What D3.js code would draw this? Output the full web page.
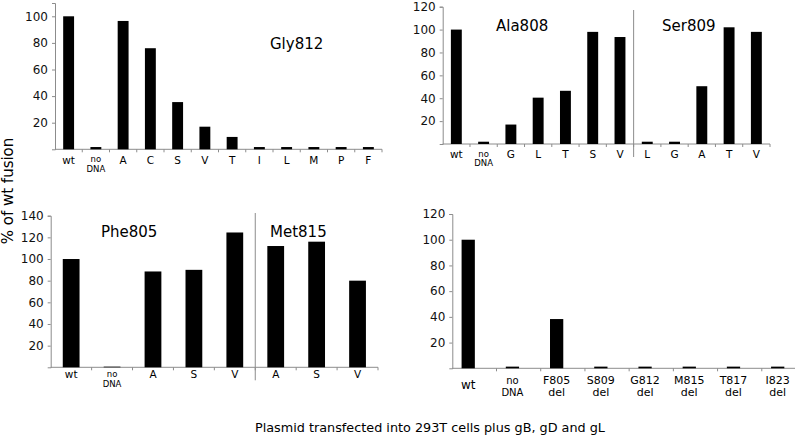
<!DOCTYPE html>
<html>
<head>
<meta charset="utf-8">
<script src="https://cdn.jsdelivr.net/npm/d3@7"></script>
<style>
  body { margin: 0; background: #fff; }
  svg { font-family: "DejaVu Sans", sans-serif; }
</style>
</head>
<body>
<div id="chart"></div>
<script>
// data (% of wt fusion)
var gly812Cats = ["wt", "no DNA", "A", "C", "S", "V", "T", "I", "L", "M", "P", "F"];
var gly812Vals = [100, 1.7, 96.5, 76, 35.5, 17, 9.3, 1.7, 1.7, 1.7, 1.7, 1.7];

var ala808Cats = ["wt", "no DNA", "G", "L", "T", "S", "V"];
var ala808Vals = [100, 2, 17, 40.5, 46.5, 98, 93.5];
var ser809Cats = ["L", "G", "A", "T", "V"];
var ser809Vals = [2, 2, 50.5, 102, 98];

var phe805Cats = ["wt", "no DNA", "A", "S", "V"];
var phe805Vals = [100, 0.6, 88.5, 90, 124.5];
var met815Cats = ["A", "S", "V"];
var met815Vals = [112, 116, 80];

var delCats = ["wt", "no DNA", "F805 del", "S809 del", "G812 del", "M815 del", "T817 del", "I823 del"];
var delVals = [100, 1.3, 38.3, 1.3, 1.3, 1.3, 1.3, 1.3];

var ticksA = [20, 40, 60, 80, 100];
var ticksB = [20, 40, 60, 80, 100, 120];
var ticksC = [20, 40, 60, 80, 100, 120, 140];

var axisColor = "#8c8c8c";

var svg = d3.select("#chart").append("svg")
    .attr("width", 795)
    .attr("height", 440);

// one bar panel; groups = [{name, cats, vals, titleX}]
function drawPanel(p) {
    var cats = [], vals = [];
    p.groups.forEach(function(g){
        g.cats.forEach(function(c, i){ cats.push(g.name + "|" + c); vals.push(g.vals[i]); });
    });

    var x = d3.scaleBand().domain(cats).range([p.x0, p.x1]).padding(0);
    var y = d3.scaleLinear().domain([0, p.yMax]).range([p.base, p.top]);

    var g = svg.append("g");

    // y axis
    var yAxis = d3.axisLeft(y).tickValues(p.ticks).tickSize(3).tickPadding(4);
    var ya = g.append("g").attr("transform", "translate(" + p.x0 + ",0)").call(yAxis);
    ya.select(".domain").attr("stroke", axisColor);
    ya.selectAll(".tick line").attr("stroke", axisColor);
    ya.selectAll(".tick text").attr("font-size", 12).attr("fill", "#111")
        .attr("font-family", "DejaVu Sans, sans-serif");

    // x axis line + small ticks at band edges
    g.append("line")
        .attr("x1", p.x0).attr("x2", p.axisEnd || p.x1)
        .attr("y1", p.base).attr("y2", p.base)
        .attr("stroke", axisColor);
    var edges = d3.range(1, cats.length + 1).map(function(i){ return p.x0 + i * x.step(); });
    g.selectAll(".xt").data(edges).enter().append("line")
        .attr("x1", function(d){ return d; }).attr("x2", function(d){ return d; })
        .attr("y1", p.base).attr("y2", p.base + 3)
        .attr("stroke", axisColor);

    // bars
    var bw = x.step() * p.barFrac;
    var off = p.barOffset != null ? p.barOffset * x.step() : (x.step() - bw) / 2;
    g.selectAll(".bar").data(vals).enter().append("rect")
        .attr("x", function(d, i){ return x(cats[i]) + off; })
        .attr("width", bw)
        .attr("y", function(d){ return y(d); })
        .attr("height", function(d){ return p.base - y(d); })
        .attr("fill", "#000");

    // category labels
    cats.forEach(function(c, i){
        var name = c.split("|")[1];
        var cx = x(c) + off + bw / 2;
        var parts = name.split(" ");
        if (parts.length == 1) {
            g.append("text").attr("x", cx).attr("y", p.base + p.lab1)
                .attr("text-anchor", "middle").attr("font-size", p.labFont)
                .text(name);
        } else {
            var fs = name == "no DNA" ? p.noFont : p.twoFont;
            parts.forEach(function(t, k){
                g.append("text").attr("x", cx).attr("y", p.base + p.lab2 + k * p.lineGap)
                    .attr("text-anchor", "middle").attr("font-size", fs)
                    .text(t);
            });
        }
    });

    // group titles and separators
    p.groups.forEach(function(gr, k){
        if (gr.name) {
            g.append("text").attr("x", gr.titleX).attr("y", p.titleY)
                .attr("font-size", 15).text(gr.name);
        }
        if (k > 0) {
            var sx = x(gr.name + "|" + gr.cats[0]);
            g.append("line").attr("x1", sx).attr("x2", sx)
                .attr("y1", p.sepTop).attr("y2", p.base + 13)
                .attr("stroke", axisColor);
        }
    });
}

drawPanel({
    groups: [{name: "Gly812", cats: gly812Cats, vals: gly812Vals, titleX: 270}],
    x0: 55, x1: 382, base: 149.3, top: 3, yMax: 110, ticks: ticksA,
    barFrac: 0.4, labFont: 10.5, noFont: 8.5, twoFont: 10, lab1: 15, lab2: 13, lineGap: 9.5,
    titleY: 49
});

drawPanel({
    groups: [
        {name: "Ala808", cats: ala808Cats, vals: ala808Vals, titleX: 496},
        {name: "Ser809", cats: ser809Cats, vals: ser809Vals, titleX: 662}
    ],
    x0: 442.7, x1: 770, base: 144, top: 6.7, yMax: 120, ticks: ticksB,
    barFrac: 0.4, labFont: 10.5, noFont: 8.5, twoFont: 10, lab1: 14, lab2: 12.7, lineGap: 9.3,
    titleY: 30.5, sepTop: 10
});

drawPanel({
    groups: [
        {name: "Phe805", cats: phe805Cats, vals: phe805Vals, titleX: 101},
        {name: "Met815", cats: met815Cats, vals: met815Vals, titleX: 270}
    ],
    x0: 50.7, x1: 378, base: 367.3, top: 215.7, yMax: 140, ticks: ticksC,
    barFrac: 0.41, labFont: 10.5, noFont: 8.5, twoFont: 10, lab1: 11, lab2: 9.5, lineGap: 10,
    titleY: 236.5, sepTop: 213
});

drawPanel({
    groups: [{name: "", cats: delCats, vals: delVals, titleX: 0}],
    x0: 452.3, x1: 806, axisEnd: 795, base: 368.3, top: 214, yMax: 120, ticks: ticksB,
    barFrac: 0.3, barOffset: 0.21, labFont: 12, noFont: 10, twoFont: 11, lab1: 21, lab2: 16, lineGap: 11.5,
    titleY: 0
});

// shared axis titles
svg.append("text")
    .attr("transform", "translate(13,191) rotate(-90)")
    .attr("text-anchor", "middle")
    .attr("font-size", 15)
    .text("% of wt fusion");

svg.append("text")
    .attr("x", 430).attr("y", 432)
    .attr("text-anchor", "middle")
    .attr("font-size", 12.8)
    .text("Plasmid transfected into 293T cells plus gB, gD and gL");
</script>
</body>
</html>
